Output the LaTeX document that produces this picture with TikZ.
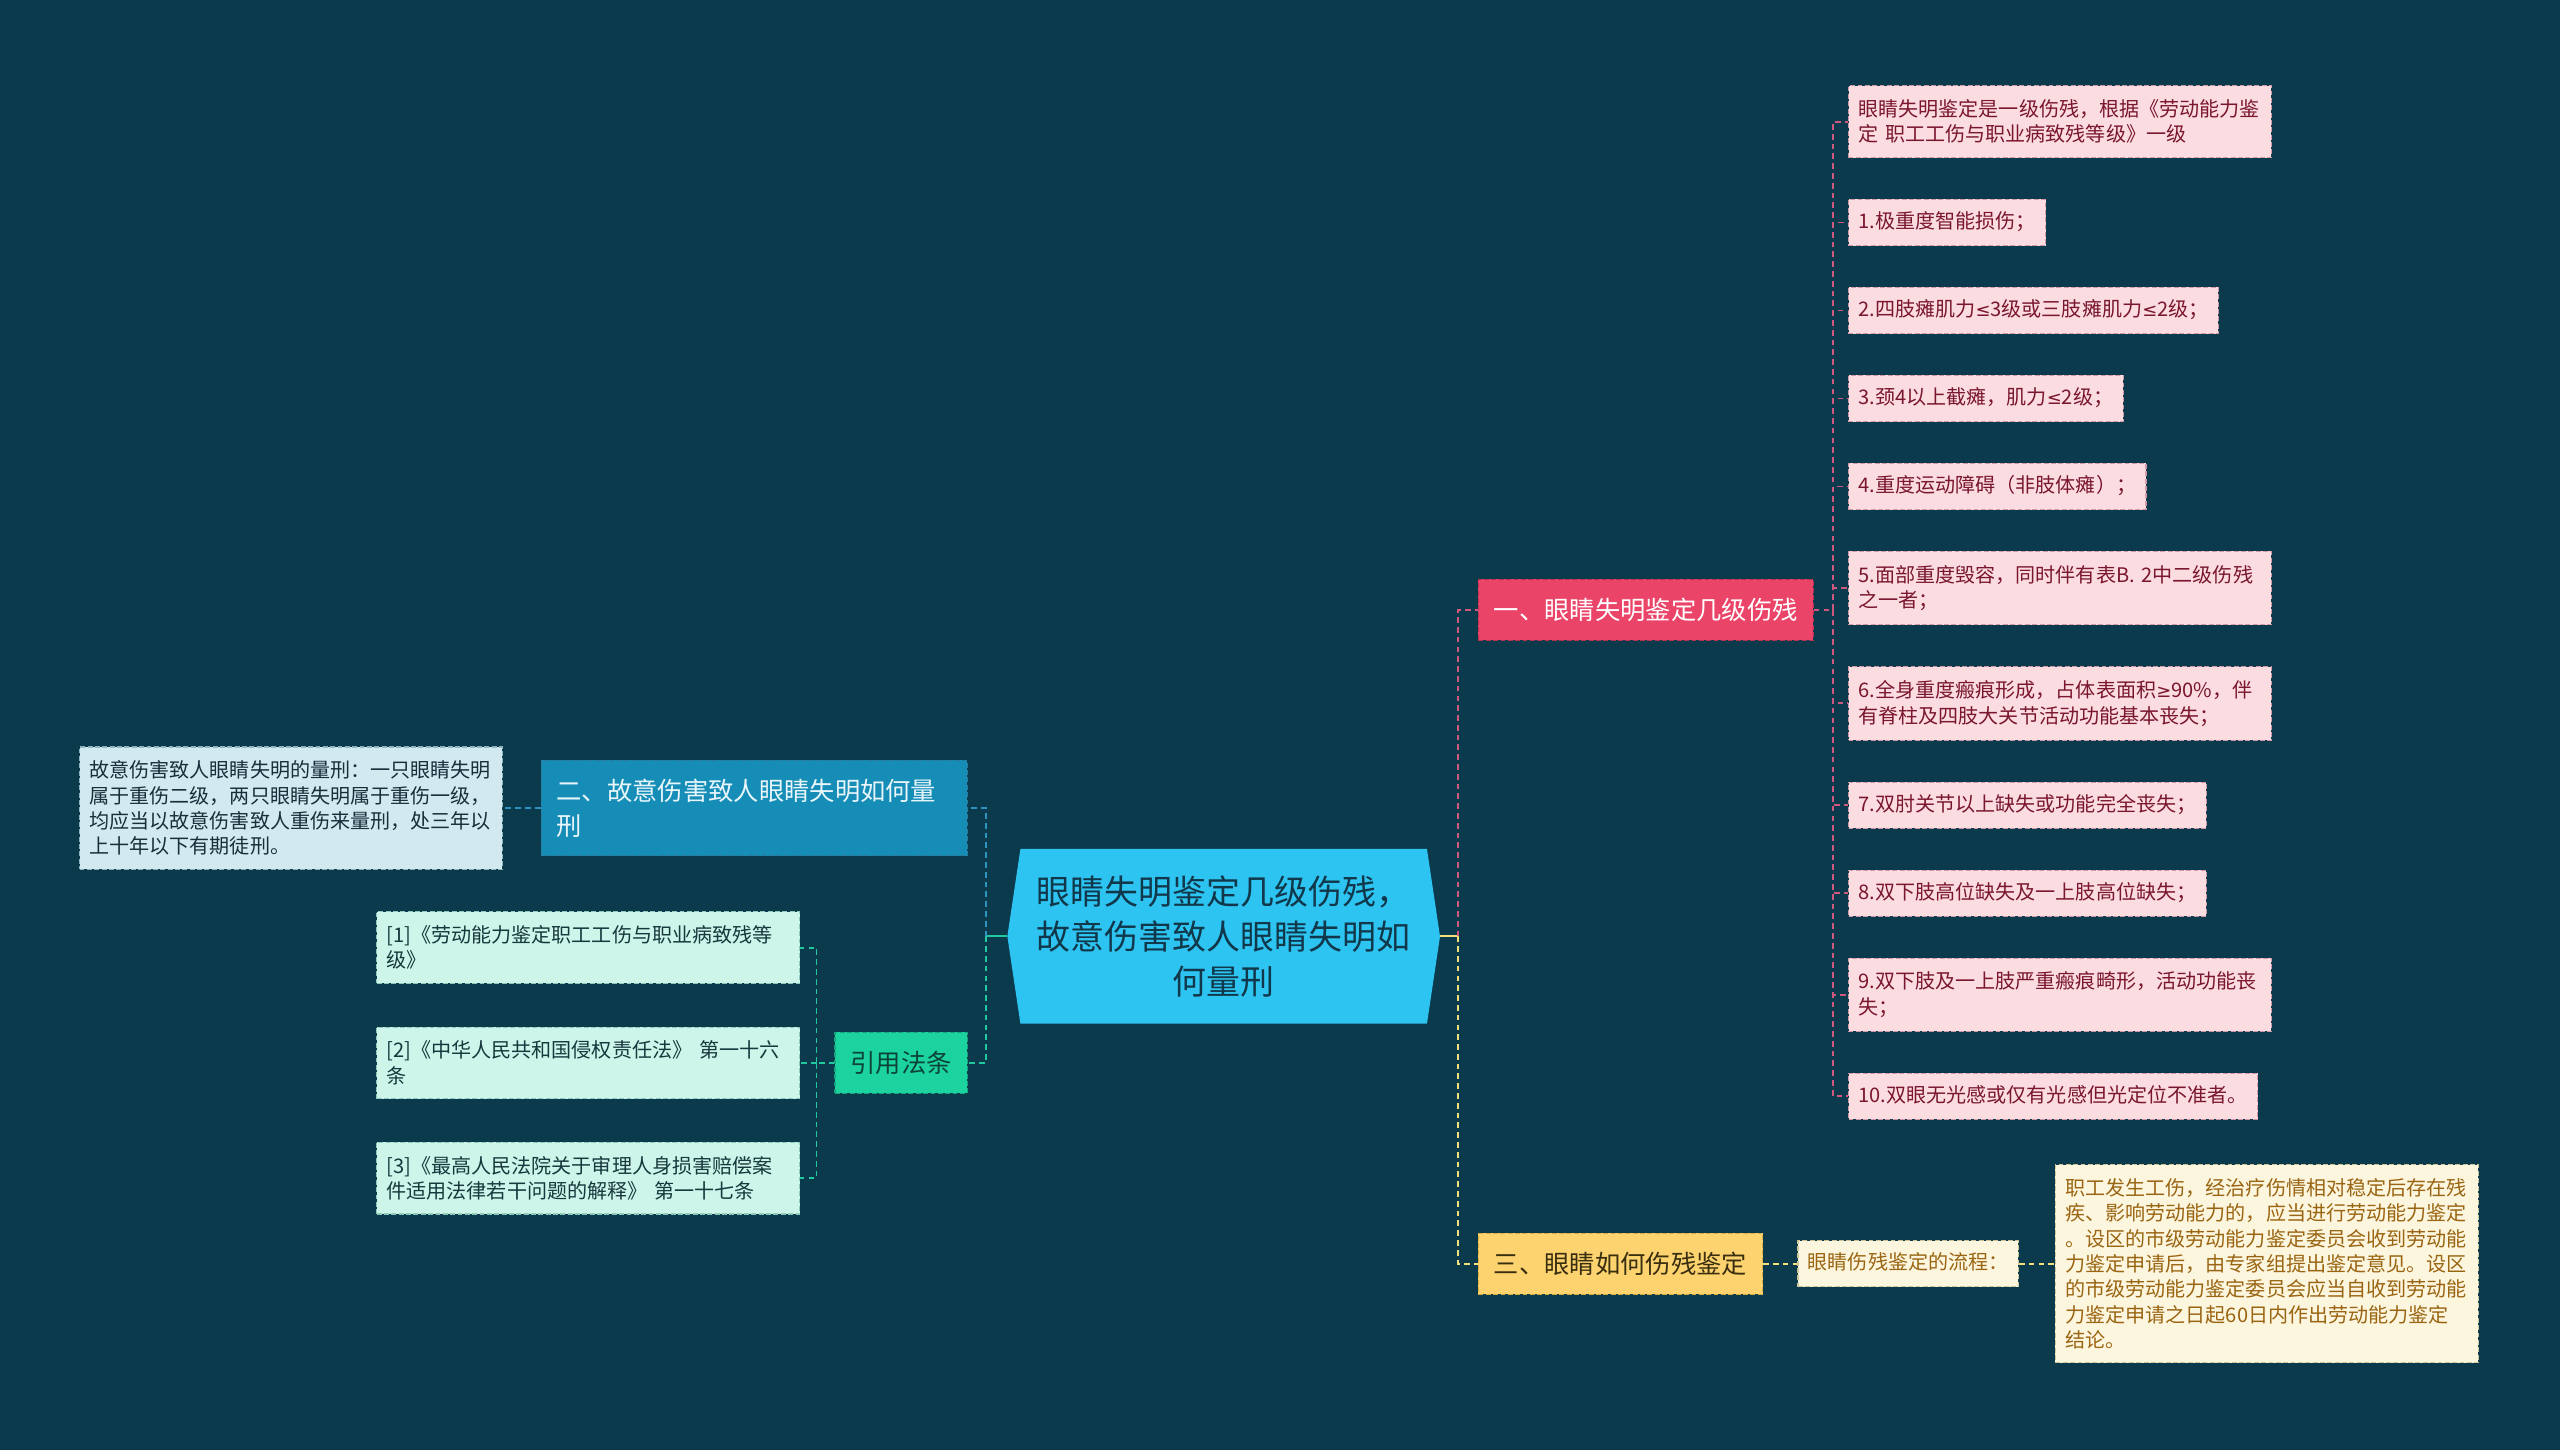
\documentclass[tikz,border=0pt]{standalone}
\usepackage{fontspec}
\setmainfont{Noto Sans CJK SC}
\newfontfamily\symfont{DejaVu Sans}
\usepackage{tikz}
\usetikzlibrary{positioning}
\usetikzlibrary{shapes.symbols}
\usepackage{xcolor}

\definecolor{bgc}{HTML}{0B3A4D}
\definecolor{rootbg}{HTML}{2EC4F2}
\definecolor{roottx}{HTML}{11384A}
\definecolor{redbg}{HTML}{EA4468}
\definecolor{redbd}{HTML}{B8304F}
\definecolor{pinkbg}{HTML}{FBDCE1}
\definecolor{pinkbd}{HTML}{D29AA8}
\definecolor{pinktx}{HTML}{7A1630}
\definecolor{pinkln}{HTML}{D0587E}
\definecolor{yelbg}{HTML}{FCD36E}
\definecolor{yelbd}{HTML}{D9AE40}
\definecolor{yeltx}{HTML}{3A2E10}
\definecolor{yelln}{HTML}{F3DE7C}
\definecolor{creambg}{HTML}{FDF6DE}
\definecolor{creambd}{HTML}{CFC59A}
\definecolor{creamtx}{HTML}{9A6512}
\definecolor{bluebg}{HTML}{168DB7}
\definecolor{bluebd}{HTML}{2A7C9E}
\definecolor{bluetx}{HTML}{E8F6FC}
\definecolor{blueln}{HTML}{2D93BF}
\definecolor{icebg}{HTML}{D3E9F0}
\definecolor{icebd}{HTML}{8FB4C0}
\definecolor{icetx}{HTML}{16303A}
\definecolor{grnbg}{HTML}{1CD39F}
\definecolor{grnbd}{HTML}{17A57D}
\definecolor{grntx}{HTML}{0B4436}
\definecolor{grnln}{HTML}{22C8A0}
\definecolor{mintbg}{HTML}{CDF5EA}
\definecolor{mintbd}{HTML}{8CCBB9}
\definecolor{minttx}{HTML}{17383C}

\newcommand{\lesym}{{\symfont\fontsize{11pt}{15pt}\selectfont ≤}}
\newcommand{\gesym}{{\symfont\fontsize{11pt}{15pt}\selectfont ≥}}

\begin{document}
\begin{tikzpicture}[x=1pt,y=-1pt,node distance=25pt,
        box/.style={inner xsep=6pt, inner ysep=8.5pt, align=left, line width=0.7pt,
          dash pattern=on 3pt off 1.5pt, font=\fontsize{12.3pt}{15.5pt}\selectfont},
        one/.style={text height=9.6pt, text depth=2pt, inner ysep=8.3pt},
        wide/.style={text width=247pt},
        branch/.style={inner xsep=9.5pt, inner ysep=11.5pt, align=left, line width=0.7pt,
          dash pattern=on 3pt off 1.5pt, font=\fontsize{15.5pt}{21pt}\selectfont},
        rootbox/.style={signal, signal to=east and west, signal pointer angle=163,
          fill=rootbg, text=roottx, minimum width=265pt, minimum height=107pt,
          align=center, inner sep=2pt, font=\fontsize{20.8pt}{27.5pt}\selectfont},
        leaf/.style={box, draw=pinkbd, fill=pinkbg, text=pinktx},
        law/.style={box, wide, draw=mintbd, fill=mintbg, text=minttx},
        conn/.style={line width=1.2pt, dash pattern=on 3.5pt off 2.5pt},
        pline/.style={conn, draw=pinkln},
        yline/.style={conn, draw=yelln},
        bline/.style={conn, draw=blueln},
        gline/.style={conn, draw=grnln}]

        \fill[bgc] (0,0) rectangle (1568,888);
        \useasboundingbox (0,0) rectangle (1568,888);

        \node[rootbox] (root) at (749.5,573.5) {眼睛失明鉴定几级伤残，\\故意伤害致人眼睛失明如\\何量刑};

        % main branches
        \node[branch, draw=redbd, fill=redbg, text=white] (b1) [right=23pt of root, yshift=200pt] {一、眼睛失明鉴定几级伤残};
        \node[branch, draw=yelbd, fill=yelbg, text=yeltx] (b3) [right=23pt of root, yshift=-200.5pt] {三、眼睛如何伤残鉴定};
        \node[branch, text width=242pt, draw=bluebd, fill=bluebg, text=bluetx] (b2) [left=24pt of root, yshift=78.5pt] {二、故意伤害致人眼睛失明如何量\\刑};
        \node[branch, draw=grnbd, fill=grnbg, text=grntx] (b4) [left=24pt of root, yshift=-77.5pt] {引用法条};

        % eye leaves
        \node[leaf, wide] (L0) [right=21pt of b1, yshift=299pt, anchor=west] {眼睛失明鉴定是一级伤残，根据《劳动能力鉴\\定 职工工伤与职业病致残等级》一级};
        \node[leaf, one] (L1) [below=of L0.south west, anchor=north west] {1.极重度智能损伤；};
        \node[leaf, one] (L2) [below=of L1.south west, anchor=north west] {2.四肢瘫肌力\lesym3级或三肢瘫肌力\lesym2级；};
        \node[leaf, one] (L3) [below=of L2.south west, anchor=north west] {3.颈4以上截瘫，肌力\lesym2级；};
        \node[leaf, one] (L4) [below=of L3.south west, anchor=north west] {4.重度运动障碍（非肢体瘫）；};
        \node[leaf, wide] (L5) [below=of L4.south west, anchor=north west] {5.面部重度毁容，同时伴有表B. 2中二级伤残\\之一者；};
        \node[leaf, wide] (L6) [below=of L5.south west, anchor=north west] {6.全身重度瘢痕形成，占体表面积\gesym90\%，伴\\有脊柱及四肢大关节活动功能基本丧失；};
        \node[leaf, one] (L7) [below=of L6.south west, anchor=north west] {7.双肘关节以上缺失或功能完全丧失；};
        \node[leaf, one] (L8) [below=of L7.south west, anchor=north west] {8.双下肢高位缺失及一上肢高位缺失；};
        \node[leaf, wide] (L9) [below=of L8.south west, anchor=north west] {9.双下肢及一上肢严重瘢痕畸形，活动功能丧\\失；};
        \node[leaf, one] (L10) [below=of L9.south west, anchor=north west] {10.双眼无光感或仅有光感但光定位不准者。};

        % flow
        \node[box, one, draw=creambd, fill=creambg, text=creamtx] (c31) [right=21pt of b3] {眼睛伤残鉴定的流程：};
        \node[box, wide, draw=creambd, fill=creambg, text=creamtx] (c32) [right=22pt of c31] {职工发生工伤，经治疗伤情相对稳定后存在残\\疾、影响劳动能力的，应当进行劳动能力鉴定\\。设区的市级劳动能力鉴定委员会收到劳动能\\力鉴定申请后，由专家组提出鉴定意见。设区\\的市级劳动能力鉴定委员会应当自收到劳动能\\力鉴定申请之日起60日内作出劳动能力鉴定\\结论。};

        % left side
        \node[box, wide, draw=icebd, fill=icebg, text=icetx] (lc) [left=23pt of b2] {故意伤害致人眼睛失明的量刑：一只眼睛失明\\属于重伤二级，两只眼睛失明属于重伤一级，\\均应当以故意伤害致人重伤来量刑，处三年以\\上十年以下有期徒刑。};
        \node[law] (law2) [left=21pt of b4] {[2]《中华人民共和国侵权责任法》 第一十六\\条};
        \node[law] (law1) [above=26pt of law2] {[1]《劳动能力鉴定职工工伤与职业病致残等\\级》};
        \node[law] (law3) [below=26pt of law2] {[3]《最高人民法院关于审理人身损害赔偿案\\件适用法律若干问题的解释》 第一十七条};

        % connectors
        \coordinate (rj) at ([xshift=11pt]root.east);
        \coordinate (lj) at ([xshift=-13pt]root.west);
        \coordinate (pj) at ([xshift=12pt]b1.east);
        \coordinate (fj) at ([xshift=-11pt]b4.west);

        \draw[line width=1.4pt, yelln] (root.east) -- (rj);
        \draw[pline] (rj) |- (b1.west);
        \draw[yline] (rj) |- (b3.west);
        \draw[line width=1.4pt, grnln] (root.west) -- (lj);
        \draw[bline] (lj) |- (b2.east);
        \draw[gline] (lj) |- (b4.east);

        \draw[pline] (b1.east) -- (pj);
        \foreach \n in {0,...,10}
          \draw[pline] (pj) |- (L\n.west);

        \draw[yline] (b3.east) -- (c31.west);
        \draw[yline] (c31.east) -- (c32.west);

        \draw[bline] (b2.west) -- (lc.east);
        \draw[gline] (b4.west) -- (fj);
        \foreach \n in {law1,law2,law3}
          \draw[gline] (fj) |- (\n.east);

\end{tikzpicture}
\end{document}
